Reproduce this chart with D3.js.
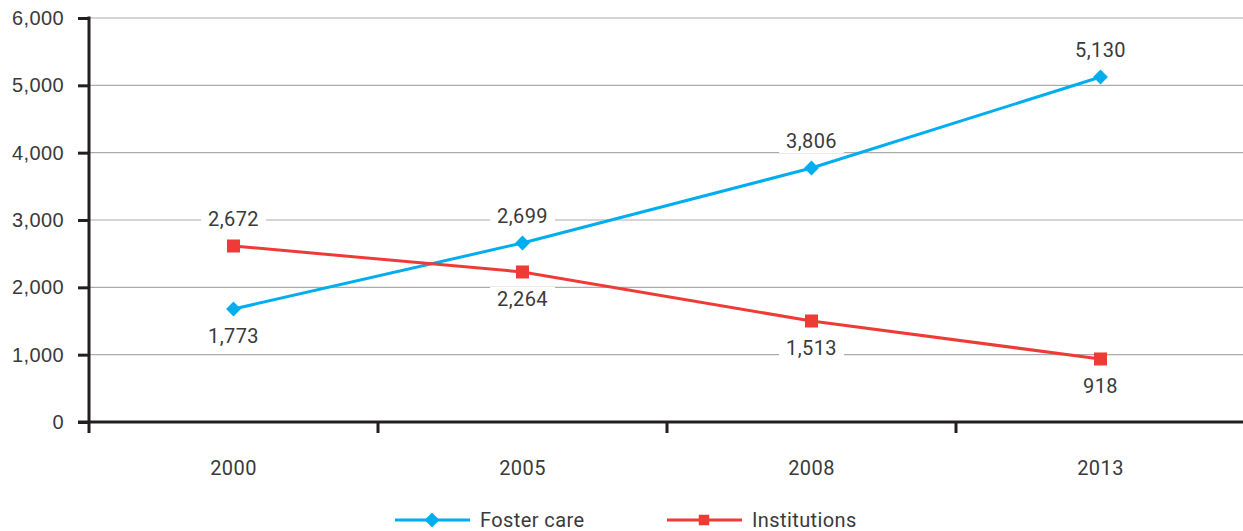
<!DOCTYPE html>
<html>
<head>
<meta charset="utf-8">
<script src="https://cdn.jsdelivr.net/npm/d3@7"></script>
<style>
  body { margin: 0; background: #fff; }
  svg { font-family: Roboto, "Liberation Sans", Arial, sans-serif; letter-spacing: 0.4px; }
</style>
</head>
<body>
<svg id="graph" width="1243" height="531"></svg>
<script>
// data
var years = ["2000", "2005", "2008", "2013"];
var fosterCare = [1678, 2659, 3772, 5124];      // plotted positions
var institutions = [2614, 2228, 1500, 936];
var fosterLabels = ["1,773", "2,699", "3,806", "5,130"];
var institutionLabels = ["2,672", "2,264", "1,513", "918"];
var fosterLabelSide = [1, -1, -1, -1];          // -1 above, 1 below
var institutionLabelSide = [-1, 1, 1, 1];
var yTicks = [0, 1000, 2000, 3000, 4000, 5000, 6000];

var blue = "#00aeef", red = "#ef3b36", axisCol = "#231f20", textCol = "#3a3a3a";

var svg = d3.select("#graph");
var plotLeft = 89, plotRight = 1245, plotTop = 18, plotBottom = 422;

var x = d3.scaleBand().domain(years).range([plotLeft, plotRight]).padding(0);
var y = d3.scaleLinear().domain([0, 6000]).range([plotBottom, plotTop]);
var cx = function (d) { return x(d) + x.bandwidth() / 2; };

// gridlines
svg.append("g")
  .selectAll("line")
  .data(yTicks.slice(1))
  .enter().append("line")
  .attr("x1", plotLeft).attr("x2", 1243)
  .attr("y1", d => y(d)).attr("y2", d => y(d))
  .attr("stroke", "#ababab").attr("stroke-width", 1.2);

// y axis
var yAxis = svg.append("g")
  .attr("transform", "translate(" + plotLeft + ",0)")
  .call(d3.axisLeft(y).tickValues(yTicks).tickSize(11).tickPadding(14)
    .tickFormat(d3.format(",")));
yAxis.select(".domain").remove();
yAxis.selectAll(".tick line").attr("stroke", axisCol).attr("stroke-width", 3);
yAxis.selectAll("text").attr("fill", textCol).style("font-size", "20px").attr("font-family", null);
yAxis.append("line")
  .attr("x1", 0).attr("x2", 0).attr("y1", plotTop - 1.5).attr("y2", plotBottom + 11)
  .attr("stroke", axisCol).attr("stroke-width", 3);

// x axis
var xAxis = svg.append("g").attr("transform", "translate(0," + plotBottom + ")");
xAxis.append("line")
  .attr("x1", plotLeft - 11).attr("x2", 1243).attr("y1", 0).attr("y2", 0)
  .attr("stroke", axisCol).attr("stroke-width", 3);
xAxis.selectAll(".xtick")
  .data(years.slice(1).concat(["end"]))
  .enter().append("line")
  .attr("x1", (d, i) => plotLeft + (i + 1) * x.bandwidth())
  .attr("x2", (d, i) => plotLeft + (i + 1) * x.bandwidth())
  .attr("y1", 0).attr("y2", 11)
  .attr("stroke", axisCol).attr("stroke-width", 3);
xAxis.selectAll(".xlab")
  .data(years)
  .enter().append("text")
  .attr("x", cx).attr("y", 46)
  .attr("dy", "0.35em")
  .attr("text-anchor", "middle")
  .attr("fill", textCol).style("font-size", "20px")
  .text(d => d);

// lines
var line = d3.line().x((d, i) => cx(years[i])).y(d => y(d));
svg.append("path").datum(fosterCare).attr("d", line)
  .attr("fill", "none").attr("stroke", blue).attr("stroke-width", 3);
svg.append("path").datum(institutions).attr("d", line)
  .attr("fill", "none").attr("stroke", red).attr("stroke-width", 3);

var diamond = d3.symbol().type(d3.symbolSquare).size(110);
svg.append("g").selectAll("path")
  .data(fosterCare).enter().append("path")
  .attr("d", diamond)
  .attr("transform", (d, i) => "translate(" + cx(years[i]) + "," + y(d) + ") rotate(45)")
  .attr("fill", blue);
svg.append("g").selectAll("rect")
  .data(institutions).enter().append("rect")
  .attr("x", (d, i) => cx(years[i]) - 6.5).attr("y", d => y(d) - 6.5)
  .attr("width", 13).attr("height", 13)
  .attr("fill", red);

// value labels with white boxes
function labels(values, texts, side) {
  var g = svg.append("g").selectAll("g")
    .data(values).enter().append("g")
    .attr("transform", (d, i) => "translate(" + cx(years[i]) + "," + (y(d) + side[i] * 27) + ")");
  g.append("text")
    .attr("text-anchor", "middle").attr("dy", "0.35em")
    .attr("fill", textCol).style("font-size", "20px")
    .text((d, i) => texts[i]);
  g.each(function () {
    var t = d3.select(this).select("text");
    var b = t.node().getBBox();
    d3.select(this).insert("rect", "text")
      .attr("x", b.x - 7).attr("y", b.y).attr("width", b.width + 14).attr("height", b.height)
      .attr("fill", "#fff");
  });
}
labels(fosterCare, fosterLabels, fosterLabelSide);
labels(institutions, institutionLabels, institutionLabelSide);

// legend
var legend = svg.append("g").attr("transform", "translate(0,520)");
var items = [
  { name: "Foster care", color: blue, x: 395, shape: "diamond" },
  { name: "Institutions", color: red, x: 667, shape: "square" }
];
var li = legend.selectAll("g").data(items).enter().append("g")
  .attr("transform", d => "translate(" + d.x + ",0)");
li.append("line").attr("x1", 0).attr("x2", 75).attr("y1", 0).attr("y2", 0)
  .attr("stroke", d => d.color).attr("stroke-width", 3);
li.append("path")
  .attr("d", diamond)
  .attr("transform", d => d.shape == "diamond" ? "translate(37,0) rotate(45)" : "translate(37,0)")
  .attr("fill", d => d.color);
li.append("text").attr("x", 85).attr("dy", "0.35em")
  .attr("fill", textCol).style("font-size", "20px")
  .text(d => d.name);
</script>
</body>
</html>
